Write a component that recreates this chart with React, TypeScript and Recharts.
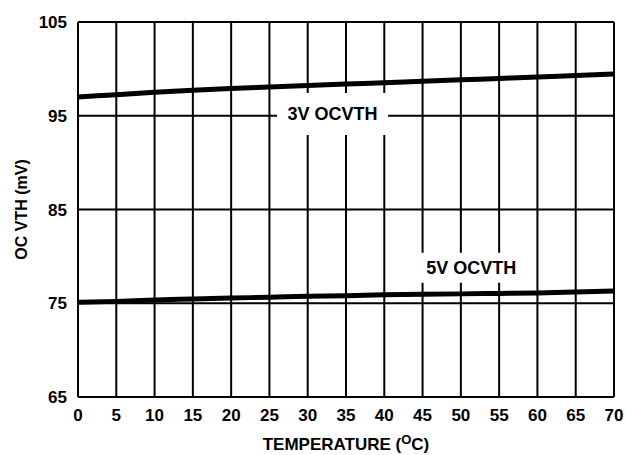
import { LineChart, Line, XAxis, YAxis, CartesianGrid, ReferenceArea } from 'recharts'

// temperature (°C) on the x axis
const temps = [0, 5, 10, 15, 20, 25, 30, 35, 40, 45, 50, 55, 60, 65, 70]
// OC threshold (mV)
const ocvth3V = [97.0, 97.25, 97.5, 97.72, 97.9, 98.06, 98.22, 98.38, 98.53, 98.68, 98.83, 98.98, 99.13, 99.3, 99.45]
const ocvth5V = [75.1, 75.2, 75.35, 75.45, 75.55, 75.65, 75.75, 75.8, 75.9, 75.95, 76.0, 76.05, 76.1, 76.2, 76.3]
const yTicks = [65, 75, 85, 95, 105]

const data = temps.map((t, i) => ({ t, v3: ocvth3V[i], v5: ocvth5V[i] }))

const FONT = 'Liberation Sans, Arial, sans-serif'

const XTitle = ({ viewBox }: any) => {
  const cx = viewBox.x + viewBox.width / 2
  return (
    <text x={cx} y={viewBox.y + 53} textAnchor="middle" fontFamily={FONT} fontWeight="bold" fontSize={17} fill="#000">
      TEMPERATURE (
      <tspan fontSize={13} dy={-6}>O</tspan>
      <tspan dy={6}>C)</tspan>
    </text>
  )
}

const YTitle = ({ viewBox }: any) => {
  const cy = viewBox.y + viewBox.height / 2
  const x = 27
  return (
    <text x={x} y={cy} transform={`rotate(-90, ${x}, ${cy})`} textAnchor="middle" fontFamily={FONT} fontWeight="bold" fontSize={16} fill="#000">
      OC VTH (mV)
    </text>
  )
}

const boxLabel = (value: string) => ({
  value,
  position: 'center' as const,
  fill: '#000',
  fontSize: 18,
  fontWeight: 'bold',
  fontFamily: FONT,
})

export default function App() {
  return (
    <div style={{ position: 'absolute', left: 0, top: 0, background: '#fff' }}>
      <LineChart width={626} height={455} data={data} margin={{ top: 22, right: 12, left: 0, bottom: 0 }}>
        <CartesianGrid stroke="#000" strokeWidth={2} />
        <XAxis
          dataKey="t"
          type="number"
          domain={[0, 70]}
          ticks={temps}
          height={58}
          axisLine={false}
          tickLine={false}
          tickSize={0}
          tickMargin={12}
          tick={{ fill: '#000', fontSize: 17, fontWeight: 'bold', fontFamily: FONT }}
          label={<XTitle />}
        />
        <YAxis
          type="number"
          domain={[65, 105]}
          ticks={yTicks}
          width={78}
          axisLine={false}
          tickLine={false}
          tickSize={0}
          tickMargin={11}
          tick={{ fill: '#000', fontSize: 17, fontWeight: 'bold', fontFamily: FONT }}
          label={<YTitle />}
        />
        <ReferenceArea x1={26} x2={40.5} y1={92.95} y2={97.43} fill="#fff" fillOpacity={1} stroke="none" label={boxLabel('3V OCVTH')} />
        <ReferenceArea x1={44.2} x2={58.5} y1={77.2} y2={80.4} fill="#fff" fillOpacity={1} stroke="none" label={boxLabel('5V OCVTH')} />
        <Line type="monotone" dataKey="v3" stroke="#000" strokeWidth={5} dot={false} isAnimationActive={false} />
        <Line type="monotone" dataKey="v5" stroke="#000" strokeWidth={5} dot={false} isAnimationActive={false} />
      </LineChart>
    </div>
  )
}
